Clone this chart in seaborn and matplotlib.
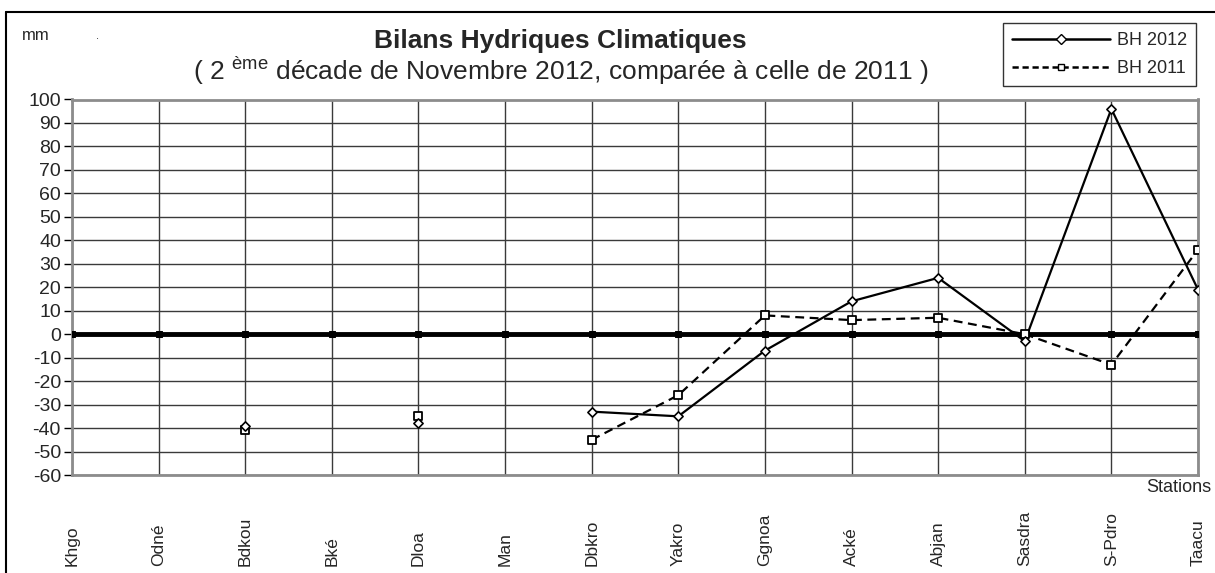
import numpy as np
import pandas as pd
import matplotlib
matplotlib.use("Agg")
import matplotlib.pyplot as plt
import seaborn as sns
from matplotlib.lines import Line2D

stations = ["Khgo", "Odné", "Bdkou", "Bké", "Dloa", "Man", "Dbkro", "Yakro",
            "Ggnoa", "Acké", "Abjan", "Sasdra", "S-Pdro", "Taacu"]
bh2012 = [np.nan, np.nan, -39, np.nan, -38, np.nan, -33, -35, -7, 14, 24, -3, 96, 19]
bh2011 = [np.nan, np.nan, -41, np.nan, -35, np.nan, -45, -26, 8, 6, 7, 0, -13, 36]
baseline = [0] * len(stations)
yticks = list(range(-60, 101, 10))

sns.set_theme(style="white")
plt.rcParams['font.family'] = ['Liberation Sans', 'DejaVu Sans']
plt.rcParams['mathtext.fontset'] = 'custom'
plt.rcParams['mathtext.rm'] = 'Liberation Sans'

W, H = 1215, 573
fig = plt.figure(figsize=(W / 100, H / 100), dpi=100)
fig.patch.set_facecolor("white")
ax = fig.add_axes([72 / W, 1 - 475 / H, (1198 - 72) / W, (475 - 99.5) / H])

x = np.arange(len(stations))
df = pd.DataFrame({"x": x, "station": stations, "bh2012": bh2012,
                   "bh2011": bh2011, "zero": baseline})
first_conn = stations.index("Dbkro")
seg = df.iloc[first_conn:]

# baseline
sns.lineplot(data=df, x="x", y="zero", ax=ax, color="black", lw=3.5,
             marker="s", markersize=5, markeredgecolor="black", zorder=3)
# 2011 dashed
sns.lineplot(data=seg, x="x", y="bh2011", ax=ax, color="black", lw=1.6,
             linestyle=(0, (4, 2.5)), zorder=4)
sns.scatterplot(data=df, x="x", y="bh2011", ax=ax, marker="s", s=38,
                facecolor="white", edgecolor="black", linewidth=1.3, zorder=6)
# 2012 solid
sns.lineplot(data=seg, x="x", y="bh2012", ax=ax, color="black", lw=1.6, zorder=5)
sns.scatterplot(data=df, x="x", y="bh2012", ax=ax, marker="D", s=22,
                facecolor="white", edgecolor="black", linewidth=1.2, zorder=7)

ax.set_xlim(0, len(stations) - 1)
ax.set_ylim(-60, 100)
ax.set_yticks(yticks)
ax.set_yticklabels([str(v) for v in yticks], fontsize=14)
ax.set_xticks(x)
ax.set_xticklabels([])
ax.set_xlabel("")
ax.set_ylabel("")
ax.grid(True, color="#3a3a3a", lw=1)
ax.set_axisbelow(True)
for s in ax.spines.values():
    s.set_color("#8c8c8c")
    s.set_linewidth(2)
ax.tick_params(axis="y", left=True, length=6, width=1, color="black", pad=2)
ax.tick_params(axis="x", bottom=False, length=0)

for xi, name in zip(x, stations):
    ax.text(xi, -0.242, name, transform=ax.get_xaxis_transform(),
            rotation=90, ha="center", va="bottom", fontsize=12.5)

fig.text(1211 / W, 1 - 488 / H, "Stations", ha="right", va="center", fontsize=13)
fig.text(560 / W, 1 - 41 / H, "Bilans Hydriques Climatiques", ha="center",
         va="center", fontsize=19, fontweight="bold")
fig.text(561 / W, 1 - 71 / H,
         "( 2 $^{\\mathrm{ème}}$ décade de Novembre 2012, comparée à celle de 2011 )",
         ha="center", va="center", fontsize=19)
fig.text(22 / W, 1 - 35 / H, "mm", ha="left", va="center", fontsize=12)
fig.text(96 / W, 1 - 36 / H, ".", ha="left", va="center", fontsize=8)

# outer frame
fig.add_artist(Line2D([6 / W, 6 / W], [0, 1 - 12 / H], transform=fig.transFigure,
                      color="black", lw=1.5))
fig.add_artist(Line2D([6 / W, 1], [1 - 12 / H, 1 - 12 / H], transform=fig.transFigure,
                      color="black", lw=1.5))

handles = [
    Line2D([], [], color="black", lw=1.8, marker="D", markersize=5,
           markerfacecolor="white", markeredgecolor="black"),
    Line2D([], [], color="black", lw=1.8, linestyle=(0, (2.5, 1.5)), marker="s",
           markersize=4, markerfacecolor="white", markeredgecolor="black"),
]
leg = fig.legend(handles, ["BH 2012", "BH 2011"], loc="upper right",
                 bbox_to_anchor=(1196 / W, 1 - 23 / H), fontsize=13,
                 frameon=True, fancybox=False, handlelength=5.4,
                 borderpad=0.5, labelspacing=0.6, handletextpad=0.4,
                 borderaxespad=0)
leg.get_frame().set_edgecolor("black")
leg.get_frame().set_linewidth(1)

fig.savefig("out.png", dpi=100, facecolor="white")
